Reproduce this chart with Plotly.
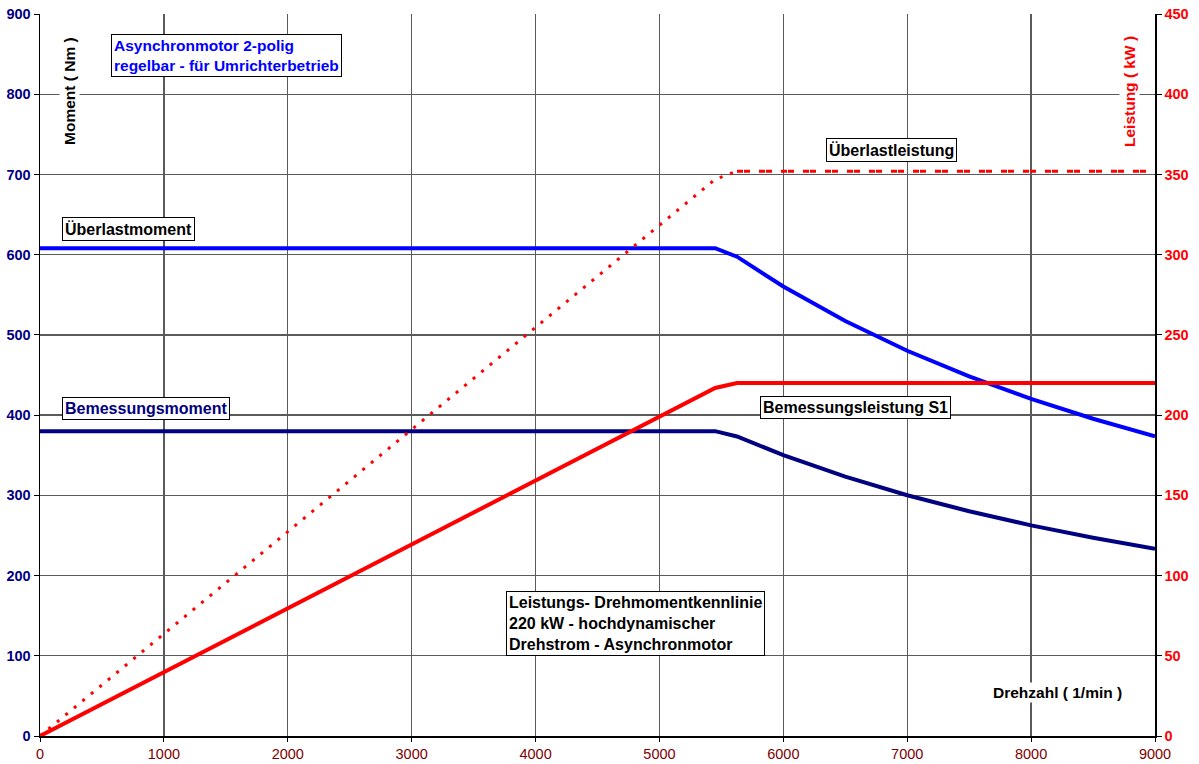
import plotly.graph_objects as go

# ---------------- data ----------------
speed_torque = [0, 5450, 5626, 6000, 6500, 7000, 7500, 8000, 8500, 9000]
torque_overload = [608, 608, 597.5, 560.3, 517.2, 480.2, 448.2, 420.2, 395.5, 373.5]
torque_rated = [380, 380, 373.4, 350.2, 323.2, 300.1, 280.1, 262.6, 247.2, 233.4]

speed_power = [0, 5450, 5626, 9000]
power_rated = [0, 216.9, 220, 220]

speed_overload_ramp = [0, 5450, 5626]
power_overload_ramp = [0, 347, 352]
speed_overload_flat = [5626, 9000]
power_overload_flat = [352, 352]

x_ticks = [0, 1000, 2000, 3000, 4000, 5000, 6000, 7000, 8000, 9000]
y_ticks = [0, 100, 200, 300, 400, 500, 600, 700, 800, 900]
y2_ticks = [0, 50, 100, 150, 200, 250, 300, 350, 400, 450]

FONT = "Liberation Sans, Arial, sans-serif"
W, H = 1199, 764
# wanted plot area in window pixels
L, R, T, B = 40, 1155, 14, 736


def px(xp):
    return (xp - L) / (R - L)


def py(yp):
    return (B - yp) / (B - T)


fig = go.Figure()

fig.add_trace(go.Scatter(x=speed_torque, y=torque_overload, mode="lines",
                         line=dict(color="#0000FF", width=4), yaxis="y", showlegend=False))
fig.add_trace(go.Scatter(x=speed_torque, y=torque_rated, mode="lines",
                         line=dict(color="#000080", width=4), yaxis="y", showlegend=False))
fig.add_trace(go.Scatter(x=speed_power, y=power_rated, mode="lines",
                         line=dict(color="#FF0000", width=4), yaxis="y2", showlegend=False))
fig.add_trace(go.Scatter(x=speed_overload_ramp, y=power_overload_ramp, mode="lines",
                         line=dict(color="#FF0000", width=3, dash="3px,8px"),
                         yaxis="y2", showlegend=False))
fig.add_trace(go.Scatter(x=speed_overload_flat, y=power_overload_flat, mode="lines",
                         line=dict(color="#FF0000", width=3, dash="6px,1px,6px,9px"),
                         yaxis="y2", showlegend=False))

box = dict(bordercolor="#000000", borderwidth=1, borderpad=2, bgcolor="#FFFFFF",
           xref="paper", yref="paper", xanchor="left", yanchor="top",
           showarrow=False, align="left")

annotations = [
    dict(text="<b>Asynchronmotor 2-polig<br>regelbar - für Umrichterbetrieb</b>",
         x=px(111), y=py(34), font=dict(family=FONT, size=15.5, color="#0000FF"), **box),
    dict(text="<b>Überlastleistung</b>", x=px(826), y=py(138),
         font=dict(family=FONT, size=16, color="#000000"), **box),
    dict(text="<b>Überlastmoment</b>", x=px(62), y=py(217),
         font=dict(family=FONT, size=16, color="#000000"), **box),
    dict(text="<b>Bemessungsmoment</b>", x=px(62), y=py(397),
         font=dict(family=FONT, size=16, color="#000080"), **box),
    dict(text="<b>Bemessungsleistung S1</b>", x=px(760), y=py(396),
         font=dict(family=FONT, size=16, color="#000000"), **box),
    dict(text="<b>Leistungs- Drehmomentkennlinie<br>220 kW - hochdynamischer<br>Drehstrom - Asynchronmotor</b>",
         x=px(506), y=py(591), font=dict(family=FONT, size=16, color="#000000"), **box),
    dict(text="<b>Moment ( Nm )</b>", x=px(70), y=py(91), xref="paper", yref="paper",
         xanchor="center", yanchor="middle", textangle=-90, showarrow=False,
         bgcolor="#FFFFFF", font=dict(family=FONT, size=15.5, color="#000000")),
    dict(text="<b>Leistung ( kW )</b>", x=px(1130), y=py(92), xref="paper", yref="paper",
         xanchor="center", yanchor="middle", textangle=-90, showarrow=False,
         bgcolor="#FFFFFF", font=dict(family=FONT, size=15.5, color="#FF0000")),
    dict(text="<b>Drehzahl ( 1/min )</b>", x=px(1057), y=py(692), xref="paper", yref="paper",
         xanchor="center", yanchor="middle", showarrow=False,
         bgcolor="#FFFFFF", font=dict(family=FONT, size=15.5, color="#000000")),
]

fig.update_layout(
    width=W, height=H,
    autosize=False,
    margin=dict(l=L, r=W - R, t=T, b=H - B, pad=0, autoexpand=False),
    paper_bgcolor="#FFFFFF", plot_bgcolor="#FFFFFF",
    font=dict(family=FONT),
    showlegend=False,
    hovermode=False,
    annotations=annotations,
    xaxis=dict(range=[0, 9000], tickvals=x_ticks, ticktext=[str(v) for v in x_ticks],
               showgrid=True, gridcolor="#5A5A5A", gridwidth=1.3, automargin=False,
               showline=True, linecolor="#000000", linewidth=1.5,
               ticks="outside", ticklen=4, tickcolor="#000000",
               ticklabeloverflow="allow",
               tickfont=dict(family=FONT, size=14.5, color="#800000"),
               zeroline=False, fixedrange=True),
    yaxis=dict(range=[0, 900], tickvals=y_ticks, ticktext=[str(v) for v in y_ticks],
               showgrid=True, gridcolor="#5A5A5A", gridwidth=1.3, automargin=False,
               showline=True, linecolor="#000000", linewidth=1.5,
               ticks="outside", ticklen=5, tickcolor="#000000",
               ticklabeloverflow="allow",
               tickfont=dict(family=FONT, size=14.5, color="#000080", weight="bold"),
               zeroline=False, fixedrange=True),
    yaxis2=dict(range=[0, 450], tickvals=y2_ticks, ticktext=[str(v) for v in y2_ticks],
                overlaying="y", side="right", showgrid=False, automargin=False,
                showline=True, linecolor="#000000", linewidth=1.5,
                ticks="outside", ticklen=5, tickcolor="#000000",
                ticklabeloverflow="allow",
                tickfont=dict(family=FONT, size=14.5, color="#FF0000", weight="bold"),
                zeroline=False, fixedrange=True),
)

fig.write_html("out.html",
               config={"displayModeBar": False, "staticPlot": True},
               post_script="document.body.style.margin='0';document.body.style.overflow='hidden';")
